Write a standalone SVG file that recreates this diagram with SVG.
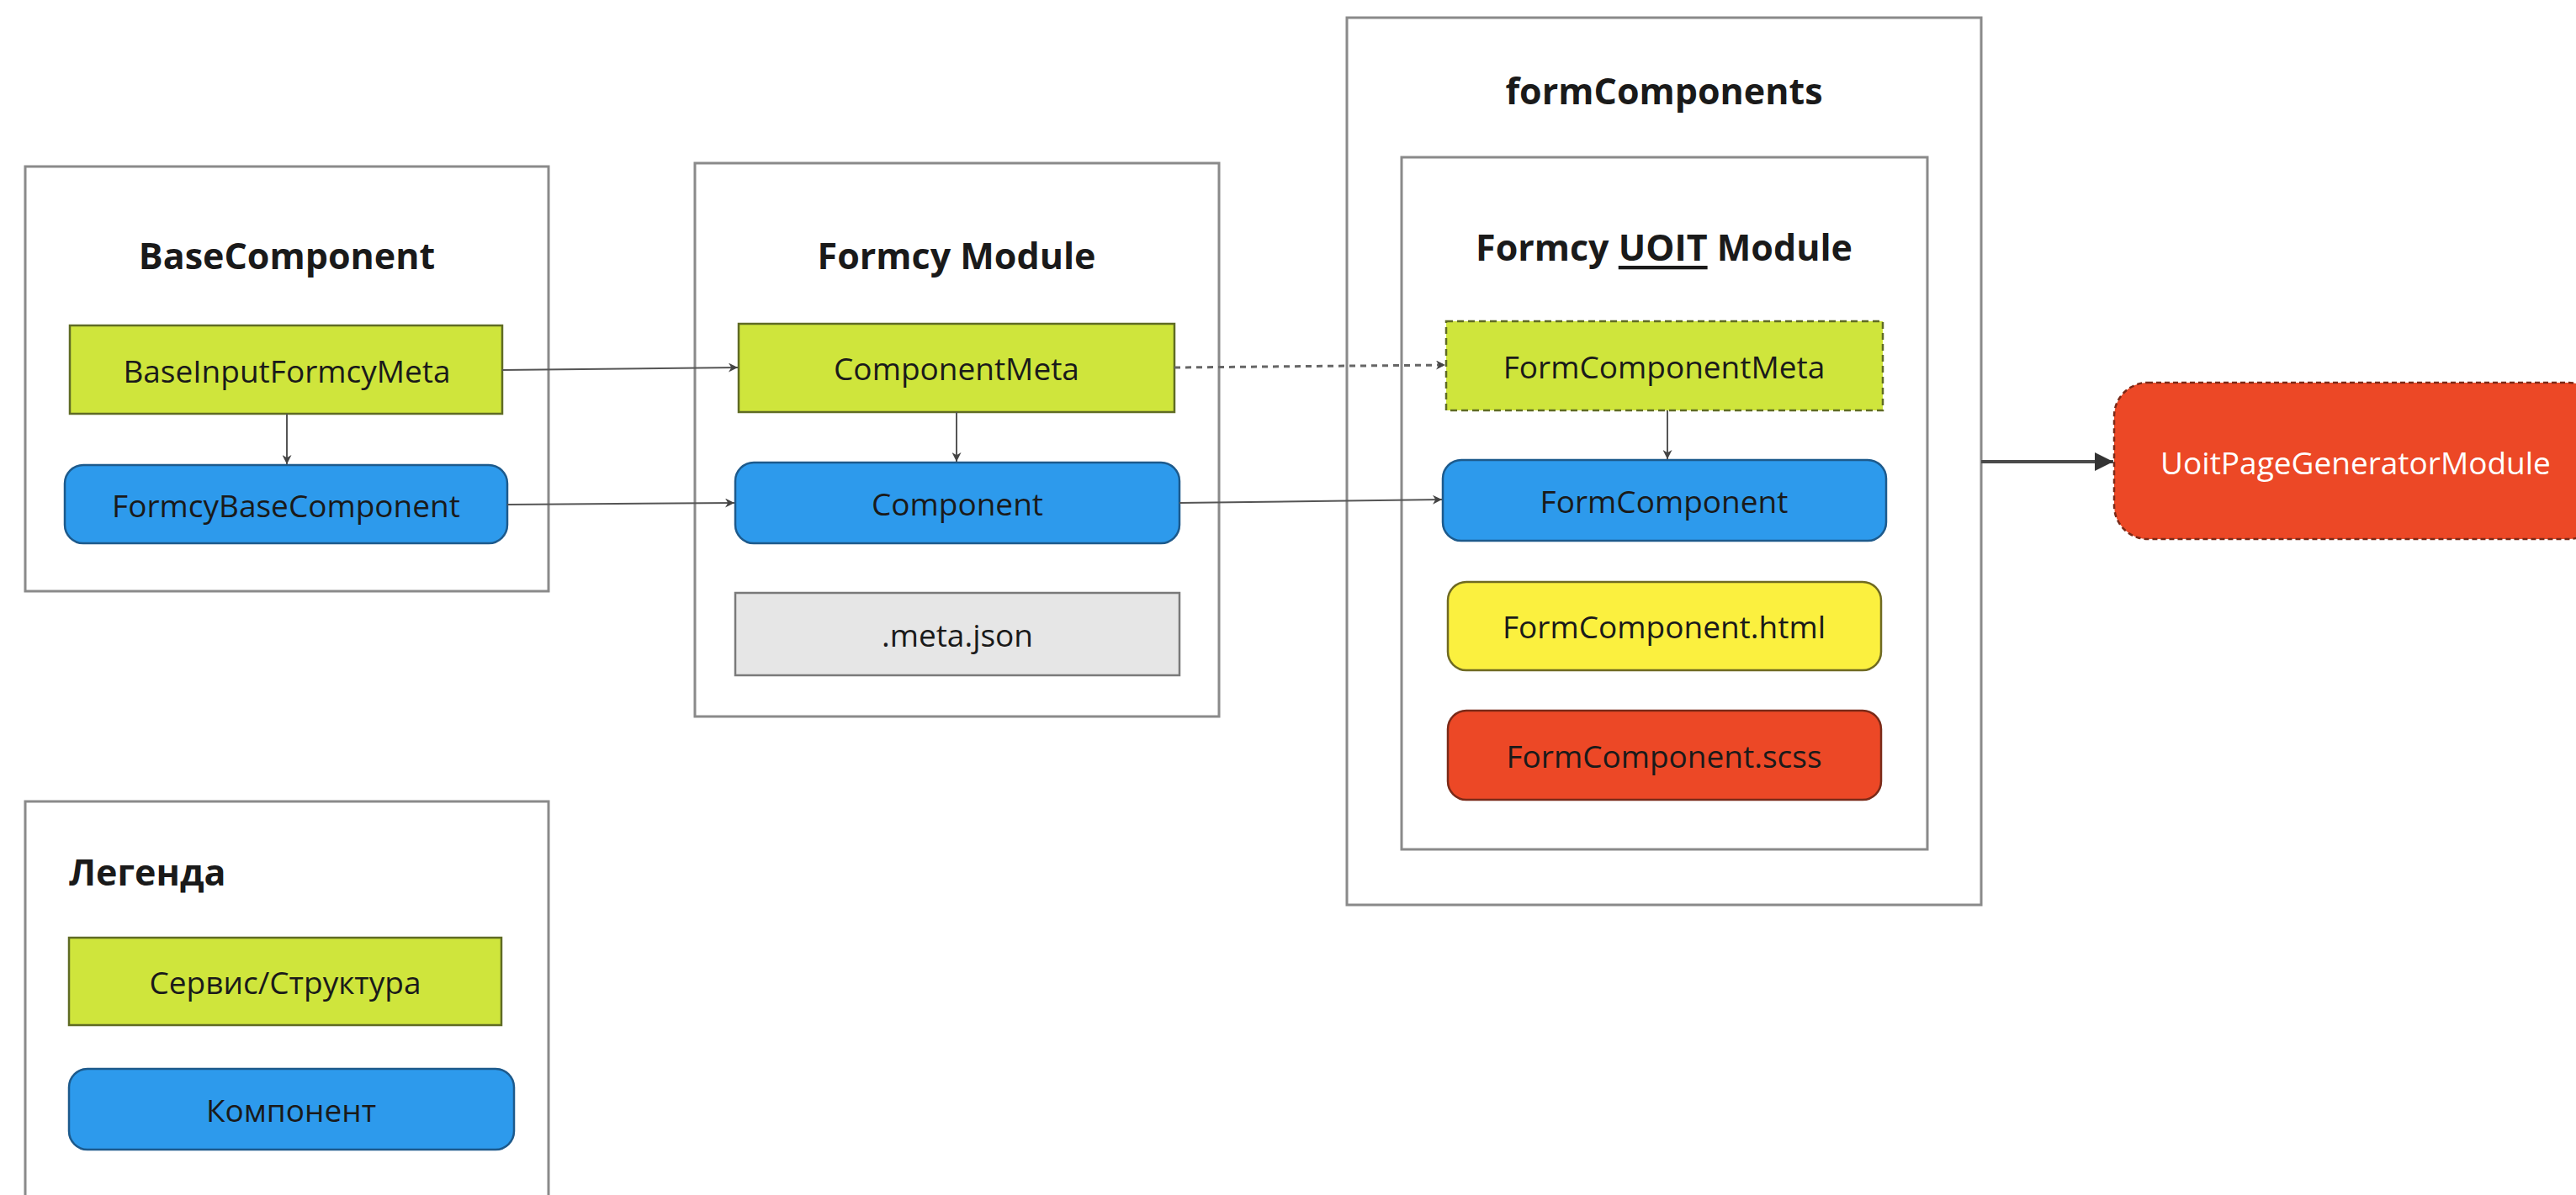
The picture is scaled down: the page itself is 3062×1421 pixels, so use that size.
<svg xmlns="http://www.w3.org/2000/svg" width="3062" height="1421" viewBox="0 0 3062 1421">
  <style>
    .frame { fill: #ffffff; stroke: #8a8a8a; stroke-width: 3; }
    .title { font-family: "Open Sans", "Noto Sans", sans-serif; font-weight: 700; font-size: 43px; fill: #1a1a1a; text-anchor: middle; dominant-baseline: central; }
    .label { font-family: "Open Sans", "Noto Sans", sans-serif; font-size: 37px; fill: #1a1a1a; text-anchor: middle; dominant-baseline: central; }
    .svc { fill: #cfe53c; stroke: #5f6b24; stroke-width: 2.5; }
    .svc-dash { fill: #cfe53c; stroke: #5f6b24; stroke-width: 2.5; stroke-dasharray: 8 5; }
    .cmp { fill: #2d9aec; stroke: #1d5a8c; stroke-width: 2.5; }
    .html { fill: #fbf03f; stroke: #6f6a22; stroke-width: 2.5; }
    .scss { fill: #ec4826; stroke: #7a2a18; stroke-width: 2.5; }
    .json { fill: #e6e6e6; stroke: #7a7a7a; stroke-width: 2.5; }
    .gen { fill: #ec4826; stroke: #7a2a18; stroke-width: 2.5; stroke-dasharray: 6 4; }
    .edge { fill: none; stroke: #555555; stroke-width: 2; }
    .edge-dash { fill: none; stroke: #666666; stroke-width: 3; stroke-dasharray: 7 6; }
    .edge-bold { fill: none; stroke: #4a4a4a; stroke-width: 4; }
  </style>
  <defs>
    <marker id="arrow" viewBox="0 0 10 10" refX="10" refY="5" markerWidth="12" markerHeight="11" markerUnits="userSpaceOnUse" orient="auto">
      <path d="M0,0 L10,5 L0,10 L3,5 Z" fill="#444444"/>
    </marker>
    <marker id="arrow-big" viewBox="0 0 10 10" refX="10" refY="5" markerWidth="22" markerHeight="22" markerUnits="userSpaceOnUse" orient="auto">
      <path d="M0,0 L10,5 L0,10 Z" fill="#333333"/>
    </marker>
  </defs>

  <rect width="3062" height="1421" fill="#ffffff"/>

  <!-- BaseComponent container -->
  <g id="base-component">
    <rect class="frame" x="30" y="198" width="622" height="505"/>
    <text class="title" x="341" y="303">BaseComponent</text>
  </g>
  <g id="base-input-formcy-meta">
    <rect class="svc" x="83" y="387" width="514" height="105"/>
    <text class="label" x="341" y="440">BaseInputFormcyMeta</text>
  </g>
  <g id="formcy-base-component">
    <rect class="cmp" x="77" y="553" width="526" height="93" rx="22"/>
    <text class="label" x="340" y="600">FormcyBaseComponent</text>
  </g>

  <!-- Formcy Module container -->
  <g id="formcy-module">
    <rect class="frame" x="826" y="194" width="623" height="658"/>
    <text class="title" x="1137" y="303">Formcy Module</text>
  </g>
  <g id="component-meta">
    <rect class="svc" x="878" y="385" width="518" height="105"/>
    <text class="label" x="1137" y="437">ComponentMeta</text>
  </g>
  <g id="component">
    <rect class="cmp" x="874" y="550" width="528" height="96" rx="22"/>
    <text class="label" x="1138" y="598">Component</text>
  </g>
  <g id="meta-json">
    <rect class="json" x="874" y="705" width="528" height="98"/>
    <text class="label" x="1138" y="754">.meta.json</text>
  </g>

  <!-- formComponents container -->
  <g id="form-components">
    <rect class="frame" x="1601" y="21" width="754" height="1055"/>
    <text class="title" x="1978" y="107">formComponents</text>
  </g>
  <g id="formcy-uoit-module">
    <rect class="frame" x="1666" y="187" width="625" height="823"/>
    <text class="title" x="1978" y="293">Formcy <tspan text-decoration="underline">UOIT</tspan> Module</text>
  </g>
  <g id="form-component-meta">
    <rect class="svc-dash" x="1719" y="382" width="519" height="106"/>
    <text class="label" x="1978" y="435">FormComponentMeta</text>
  </g>
  <g id="form-component">
    <rect class="cmp" x="1715" y="547" width="527" height="96" rx="22"/>
    <text class="label" x="1978" y="595">FormComponent</text>
  </g>
  <g id="form-component-html">
    <rect class="html" x="1721" y="692" width="515" height="105" rx="22"/>
    <text class="label" x="1978" y="744">FormComponent.html</text>
  </g>
  <g id="form-component-scss">
    <rect class="scss" x="1721" y="845" width="515" height="106" rx="22"/>
    <text class="label" x="1978" y="898">FormComponent.scss</text>
  </g>

  <!-- Page generator module -->
  <g id="uoit-page-generator-module">
    <rect class="gen" x="2513" y="455" width="580" height="186" rx="40"/>
    <text class="label" x="2800" y="549" style="fill:#ffffff">UoitPageGeneratorModule</text>
  </g>

  <!-- Legend -->
  <g id="legend">
    <rect class="frame" x="30" y="953" width="622" height="500"/>
    <text class="title" x="82" y="1036" style="text-anchor:start">Легенда</text>
  </g>
  <g id="legend-service">
    <rect class="svc" x="82" y="1115" width="514" height="104"/>
    <text class="label" x="339" y="1167">Сервис/Структура</text>
  </g>
  <g id="legend-component">
    <rect class="cmp" x="82" y="1271" width="529" height="96" rx="22"/>
    <text class="label" x="346" y="1319">Компонент</text>
  </g>

  <!-- Connectors -->
  <g id="connectors">
    <path class="edge" d="M597,440 L877,437" marker-end="url(#arrow)"/>
    <path class="edge" d="M603,600 L873,598" marker-end="url(#arrow)"/>
    <path class="edge-dash" d="M1396,437 L1718,434" marker-end="url(#arrow)"/>
    <path class="edge" d="M1402,598 L1714,594" marker-end="url(#arrow)"/>
    <path class="edge" d="M341,492 L341,552" marker-end="url(#arrow)"/>
    <path class="edge" d="M1137,490 L1137,549" marker-end="url(#arrow)"/>
    <path class="edge" d="M1982,488 L1982,546" marker-end="url(#arrow)"/>
    <path class="edge-bold" d="M2355,549 L2512,549" marker-end="url(#arrow-big)"/>
  </g>
</svg>
